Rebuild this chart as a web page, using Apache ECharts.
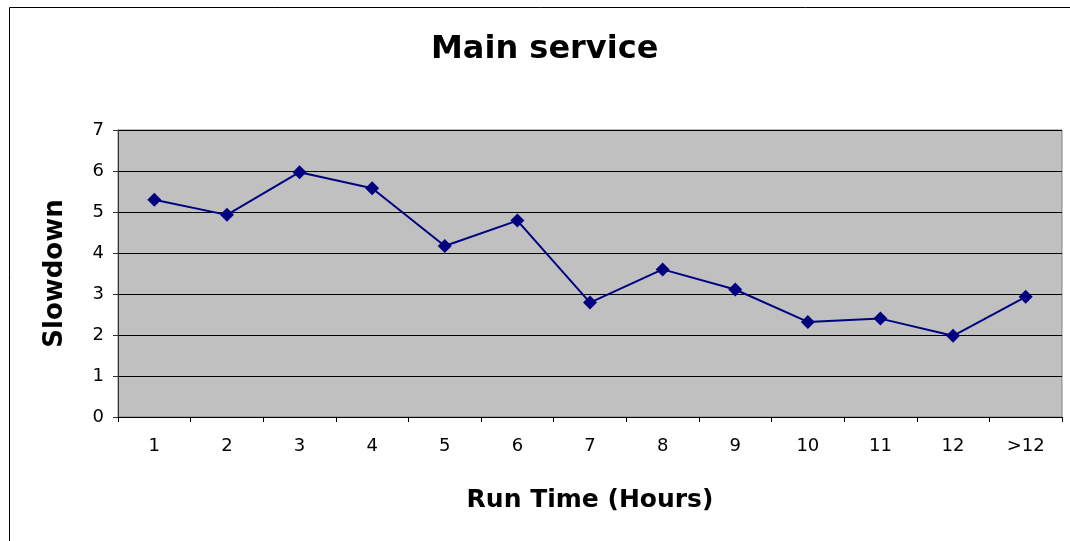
<!DOCTYPE html>
<html>
<head>
<meta charset="utf-8">
<script src="https://cdn.jsdelivr.net/npm/echarts@6/dist/echarts.min.js"></script>
<style>
  html, body { margin: 0; padding: 0; background: #fff; }
</style>
</head>
<body>
<div id="chart" style="width: 1070px;height:541px;"></div>
<script>
// x axis categories: run time in hours
let runTimes = ['1', '2', '3', '4', '5', '6', '7', '8', '9', '10', '11', '12', '>12'];
// slowdown per run time bucket
let slowdown = [5.3, 4.93, 5.97, 5.58, 4.17, 4.79, 2.79, 3.6, 3.11, 2.32, 2.4, 1.98, 2.93];
// y axis range
let yMin = 0;
let yMax = 7;
let yStep = 1;

let font = 'DejaVu Sans';

let chartDom = document.getElementById('chart');
let myChart = echarts.init(chartDom);
myChart.setOption({
  animation: false,
  backgroundColor: '#fff',
  title: {
    text: 'Main service',
    left: 426,
    top: 29,
    textStyle: {
      fontFamily: font,
      fontSize: 32,
      fontWeight: 'bold',
      color: '#000'
    }
  },
  graphic: [
    {
      // outer chart frame (runs off the right and bottom edges)
      type: 'rect',
      shape: { x: 9.5, y: 7.5, width: 1100, height: 600 },
      style: { fill: 'none', stroke: '#000', lineWidth: 1 },
      silent: true
    }
  ],
  grid: {
    left: 118,
    right: 8,
    top: 130,
    bottom: 124,
    show: true,
    backgroundColor: '#C0C0C0',
    borderColor: '#808080',
    borderWidth: 1
  },
  xAxis: {
    type: 'category',
    data: runTimes,
    boundaryGap: true,
    name: 'Run Time (Hours)',
    nameLocation: 'middle',
    nameGap: 71,
    nameTextStyle: {
      fontFamily: font,
      fontSize: 25,
      fontWeight: 'bold',
      color: '#000'
    },
    axisLine: { lineStyle: { color: '#000', width: 1 } },
    axisTick: { show: true, length: 5, lineStyle: { color: '#000' } },
    axisLabel: {
      fontFamily: font,
      fontSize: 18,
      color: '#000',
      margin: 20
    },
    splitLine: { show: false }
  },
  yAxis: {
    type: 'value',
    min: yMin,
    max: yMax,
    interval: yStep,
    name: 'Slowdown',
    nameLocation: 'middle',
    nameGap: 50,
    nameRotate: 90,
    nameTextStyle: {
      fontFamily: font,
      fontSize: 26,
      fontWeight: 'bold',
      color: '#000'
    },
    axisLine: { show: true, lineStyle: { color: '#333', width: 1 } },
    axisTick: { show: true, length: 5, lineStyle: { color: '#333' } },
    axisLabel: {
      fontFamily: font,
      fontSize: 18,
      color: '#000',
      margin: 14
    },
    splitLine: { show: true, lineStyle: { color: '#000', width: 1 } }
  },
  series: [
    {
      name: 'Slowdown',
      type: 'line',
      data: slowdown,
      symbol: 'diamond',
      symbolSize: 14,
      itemStyle: { color: '#000080' },
      lineStyle: { color: '#000080', width: 2 }
    }
  ]
});
</script>
</body>
</html>
